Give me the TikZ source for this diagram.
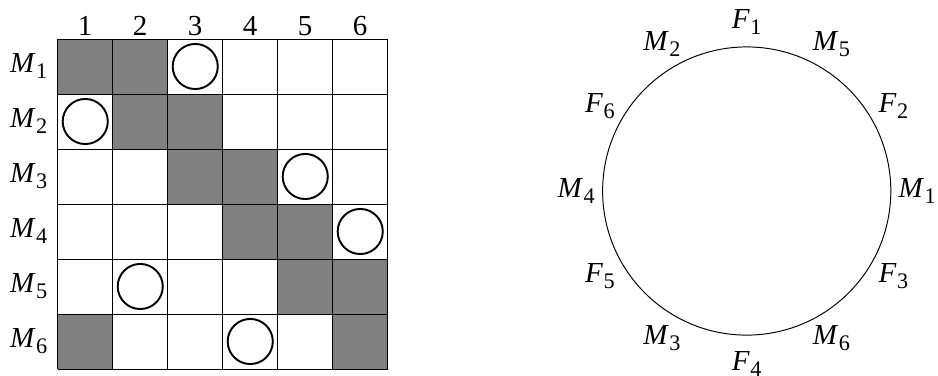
\documentclass[tikz,border=0pt]{standalone}
\usepackage{fontspec}
\setmainfont{Liberation Serif}
\usepackage{xcolor}
\definecolor{cellgray}{RGB}{128, 128, 128}
\newcommand{\lbl}[2]{\textit{#1}\kern0.3pt\raisebox{-0.45ex}{\fontsize{11.5}{12}\selectfont #2}}

\begin{document}
\begin{tikzpicture}[
  font=\fontsize{15}{18}\selectfont,
  filled/.style={fill=cellgray, draw=none},
  pick/.style={circle, draw=black, line width=1pt, minimum size=0.82cm, inner sep=0pt},
  ring/.style={circle, draw=black, line width=0.5pt, minimum size=5.24cm, inner sep=0pt}
]
  \useasboundingbox (-1.05,-0.127) rectangle (16.005,6.709);

  \fill[filled] (0,5) rectangle (2,6);
  \fill[filled] (1,4) rectangle (3,5);
  \fill[filled] (2,3) rectangle (4,4);
  \fill[filled] (3,2) rectangle (5,3);
  \fill[filled] (4,1) rectangle (6,2);
  \fill[filled] (0,0) rectangle (1,1);
  \fill[filled] (5,0) rectangle (6,1);
  \draw[line width=0.5pt] (0,0) grid (6,6);

  \node[pick] (o1) at (2.5,5.5) {};
  \node[pick] (o2) at (0.5,4.5) {};
  \node[pick] (o3) at (4.5,3.5) {};
  \node[pick] (o4) at (5.5,2.5) {};
  \node[pick] (o5) at (1.5,1.5) {};
  \node[pick] (o6) at (3.5,0.5) {};

  \node (c1) at (0.5,6.23) {1};
  \node (c2) at (1.5,6.23) {2};
  \node (c3) at (2.5,6.23) {3};
  \node (c4) at (3.5,6.23) {4};
  \node (c5) at (4.5,6.23) {5};
  \node (c6) at (5.5,6.23) {6};

  \node (m1) at (-0.53,5.5) {\lbl{M}{1}};
  \node (m2) at (-0.53,4.5) {\lbl{M}{2}};
  \node (m3) at (-0.53,3.5) {\lbl{M}{3}};
  \node (m4) at (-0.53,2.5) {\lbl{M}{4}};
  \node (m5) at (-0.53,1.5) {\lbl{M}{5}};
  \node (m6) at (-0.53,0.5) {\lbl{M}{6}};

  \node[ring] (table) at (12.527,3.236) {};
  \node (rf1) at ([shift={(90:3.08)}]table.center) {\lbl{F}{1}};
  \node (rm5) at ([shift={(60:3.08)}]table.center) {\lbl{M}{5}};
  \node (rf2) at ([shift={(30:3.08)}]table.center) {\lbl{F}{2}};
  \node (rm1) at ([shift={(0:3.1)}]table.center) {\lbl{M}{1}};
  \node (rf3) at ([shift={(-30:3.08)}]table.center) {\lbl{F}{3}};
  \node (rm6) at ([shift={(-60:3.08)}]table.center) {\lbl{M}{6}};
  \node (rf4) at ([shift={(-90:3.15)}]table.center) {\lbl{F}{4}};
  \node (rm3) at ([shift={(-120:3.08)}]table.center) {\lbl{M}{3}};
  \node (rf5) at ([shift={(-150:3.08)}]table.center) {\lbl{F}{5}};
  \node (rm4) at ([shift={(180:3.1)}]table.center) {\lbl{M}{4}};
  \node (rf6) at ([shift={(150:3.08)}]table.center) {\lbl{F}{6}};
  \node (rm2) at ([shift={(120:3.08)}]table.center) {\lbl{M}{2}};
\end{tikzpicture}
\end{document}
